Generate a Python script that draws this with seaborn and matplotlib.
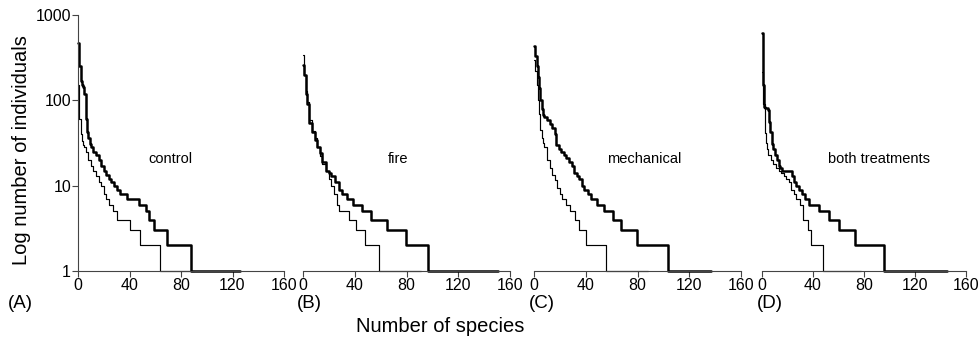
import matplotlib
matplotlib.use("Agg")
import matplotlib.pyplot as plt
import seaborn as sns
import pandas as pd
from matplotlib.ticker import FixedLocator, FixedFormatter, NullLocator

# ---------------- data (rank, abundance breakpoints) ----------------
panel_names = ["control", "fire", "mechanical", "both treatments"]
panel_letters = ["(A)", "(B)", "(C)", "(D)"]
x_ticks = [0, 40, 80, 120, 160]
y_ticks = [1, 10, 100, 1000]
y_tick_labels = ["1", "10", "100", "1000"]

# Panel A - control
a_thick_x = [0, 1, 2, 3, 4, 5, 6, 7, 8, 9, 10, 12, 14, 16, 18, 20, 22, 24, 26, 28, 30, 33, 38, 47, 53, 55, 59, 69, 88, 126]
a_thick_y = [470, 250, 170, 150, 145, 120, 60, 42, 36, 31, 28, 25, 23, 20, 17, 15, 13.5, 12, 11, 10, 9, 8, 7, 6, 5, 4, 3, 2, 1, 1]
a_thin_x = [0, 1, 2, 3, 4, 5, 6, 8, 10, 12, 14, 16, 18, 20, 22, 24, 27, 30.5, 40.5, 48, 64, 90]
a_thin_y = [150, 60, 40, 33, 30, 28, 25, 20, 17, 15, 13, 11, 10, 8, 7, 6, 5, 4, 3, 2, 1, 1]

# Panel B - fire
b_thick_x = [0, 1, 2, 3, 5, 7, 9, 11, 13, 15, 18, 20, 22, 25, 28, 30, 33.7, 38.8, 45.3, 52.3, 65, 79.4, 96.6, 151]
b_thick_y = [260, 200, 120, 90, 54, 42, 34, 28, 24, 19, 15, 14, 13, 11, 9, 8, 7, 6, 5, 4, 3, 2, 1, 1]
b_thin_x = [0, 1, 2, 3, 5, 7, 9, 11, 13, 15, 18, 20, 22, 24, 26, 27.8, 35.6, 41.3, 47.7, 58.5, 91]
b_thin_y = [340, 200, 130, 95, 58, 44, 36, 28, 22, 18, 15, 12, 10, 8, 6, 5, 4, 3, 2, 1, 1]

# Panel C - mechanical
c_thick_x = [0, 1, 2, 3, 4, 5, 6, 7, 8, 10, 12, 14, 16, 17, 19, 21, 23, 25, 27, 29, 31, 33, 35, 37, 39, 42, 44, 49, 54, 61, 67, 79.6, 103.3, 137]
c_thick_y = [430, 330, 250, 190, 140, 100, 80, 68, 63, 58, 53, 48, 40, 30, 27, 25, 23, 21, 19, 17, 14, 13, 12, 10, 9, 8, 7, 6, 5, 4, 3, 2, 1, 1]
c_thin_x = [0, 1, 2, 3, 4, 5, 6, 7, 8, 10, 12, 14, 16, 18, 20, 22, 25, 28, 32, 35, 40.5, 55.6, 88]
c_thin_y = [300, 220, 150, 100, 70, 45, 36, 32, 28, 20, 16, 13.5, 11.5, 9.5, 8, 7, 6, 5, 4, 3, 2, 1, 1]

# Panel D - both treatments
d_thick_x = [0, 0.5, 1, 1.3, 2, 4.6, 5.5, 6.5, 7.7, 9, 10.5, 11.6, 13, 14.5, 15.5, 23.2, 25, 27, 29, 31, 33.5, 37, 45, 52.9, 60, 72.6, 95.3, 145]
d_thick_y = [610, 300, 150, 84, 82, 78, 55, 42, 31, 27, 23, 20, 17, 16, 15, 13, 11, 10, 9, 8, 7, 6, 5, 4, 3, 2, 1, 1]
d_thin_x = [0, 0.5, 1, 2, 3, 4, 5, 7, 9, 11, 13, 15, 17, 19, 21, 23, 25, 27, 30, 32.3, 36, 38.7, 47.7, 78]
d_thin_y = [215, 150, 90, 41, 32, 27, 23, 20, 18, 16, 15, 14, 13, 12, 11, 9, 8, 7, 6, 4, 3, 2, 1, 1]

thick_series = [(a_thick_x, a_thick_y), (b_thick_x, b_thick_y), (c_thick_x, c_thick_y), (d_thick_x, d_thick_y)]
thin_series = [(a_thin_x, a_thin_y), (b_thin_x, b_thin_y), (c_thin_x, c_thin_y), (d_thin_x, d_thin_y)]

# ---------------- style ----------------
sns.set_style("ticks")
plt.rcParams["font.family"] = ["Liberation Sans", "DejaVu Sans"]
plt.rcParams["text.color"] = "black"
plt.rcParams["axes.labelcolor"] = "black"
plt.rcParams["xtick.color"] = "black"
plt.rcParams["ytick.color"] = "black"

fig = plt.figure(figsize=(9.8, 3.4), dpi=100)
lefts = [78 / 980, 303 / 980, 534 / 980, 762 / 980]
widths = [206 / 980, 207 / 980, 207 / 980, 204 / 980]
bottom, height = 0.203, 0.753
label_x = [0.449, 0.457, 0.534, 0.575]
letter_x = [8 / 980, 297 / 980, 529 / 980, 757 / 980]

for i in range(4):
    ax = fig.add_axes([lefts[i], bottom, widths[i], height])
    for (xs, ys), lw in ((thin_series[i], 0.85), (thick_series[i], 1.8)):
        df = pd.DataFrame({"rank": xs, "abundance": ys})
        sns.lineplot(data=df, x="rank", y="abundance", ax=ax, color="black",
                     linewidth=lw, drawstyle="steps-post", estimator=None,
                     sort=False, legend=False, clip_on=False)
    ax.set_yscale("log")
    ax.set_xlim(0, 160)
    ax.set_ylim(1, 1000)
    ax.xaxis.set_major_locator(FixedLocator(x_ticks))
    ax.yaxis.set_major_locator(FixedLocator(y_ticks))
    ax.yaxis.set_major_formatter(FixedFormatter(y_tick_labels))
    ax.yaxis.set_minor_locator(NullLocator())
    ax.set_xlabel("")
    ax.set_ylabel("")
    for s in ("top", "right"):
        ax.spines[s].set_visible(False)
    for s in ("bottom", "left"):
        ax.spines[s].set_linewidth(0.8)
        ax.spines[s].set_color("#444444")
    ax.tick_params(axis="both", direction="out", length=4, width=0.8,
                   color="#444444", labelsize=11.5, pad=1.0, labelcolor="black")
    if i > 0:
        ax.spines["left"].set_visible(False)
        ax.tick_params(axis="y", left=False, labelleft=False)
    ax.text(label_x[i], 0.4375, panel_names[i], transform=ax.transAxes,
            ha="center", va="center", fontsize=10.5, color="black")
    fig.text(letter_x[i], 1 - 303 / 340, panel_letters[i], ha="left",
             va="center", fontsize=13.5, color="black")

fig.text(22 / 980, 1 - 150 / 340, "Log number of individuals", rotation=90,
         ha="center", va="center", fontsize=14.5, color="black")
fig.text(440 / 980, 1 - 326 / 340, "Number of species", ha="center",
         va="center", fontsize=14.5, color="black")

fig.savefig("out.png", dpi=100, facecolor="white")
